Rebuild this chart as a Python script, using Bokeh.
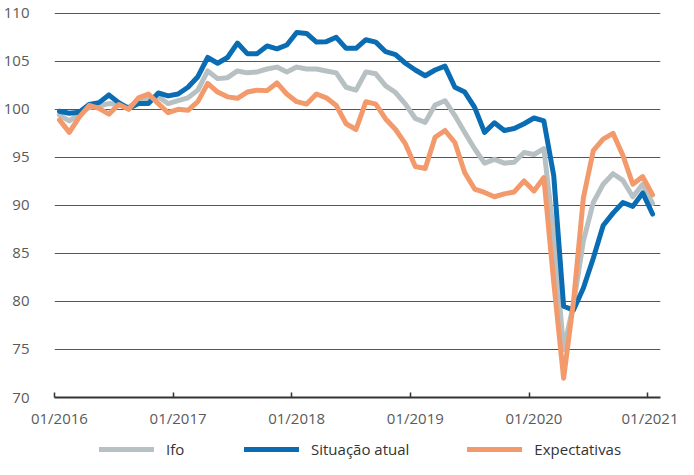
from bokeh.plotting import figure
from bokeh.layouts import column
from bokeh.models import Range1d, FixedTicker, Legend, LegendItem
from bokeh.embed import file_html
from bokeh.resources import INLINE

# Monthly data, 01/2016 .. 01/2021
months = list(range(61))
tick_labels = ["01/2016", "01/2017", "01/2018", "01/2019", "01/2020", "01/2021"]

ifo = [99.4, 98.8, 99.5, 100.2, 100.35, 100.6, 100.5, 100.2, 100.9, 101.1,
       101.3, 100.6, 100.9, 101.2, 102.0, 104.0, 103.2, 103.3, 104.0, 103.8,
       103.9, 104.2, 104.4, 103.9, 104.4, 104.2, 104.2, 104.0, 103.8, 102.3,
       102.0, 103.9, 103.7, 102.45, 101.75, 100.55, 99.05, 98.65, 100.45, 100.9,
       99.35, 97.6, 95.9, 94.4, 94.8, 94.4, 94.5, 95.5, 95.3, 95.9,
       87.0, 75.0, 79.7, 86.3, 90.3, 92.2, 93.3, 92.6, 90.9, 92.2,
       90.2]

situacao = [99.8, 99.6, 99.7, 100.5, 100.7, 101.5, 100.7, 100.1, 100.6, 100.6,
            101.7, 101.4, 101.6, 102.3, 103.4, 105.4, 104.8, 105.4, 106.9, 105.8,
            105.8, 106.6, 106.3, 106.7, 108.0, 107.9, 107.0, 107.05, 107.5, 106.35,
            106.35, 107.25, 107.0, 106.0, 105.7, 104.8, 104.1, 103.5, 104.1, 104.5,
            102.3, 101.8, 100.2, 97.6, 98.6, 97.8, 98.0, 98.5, 99.1, 98.8,
            93.1, 79.5, 79.1, 81.4, 84.5, 87.9, 89.2, 90.3, 89.9, 91.3,
            89.1]

expectativas = [98.9, 97.6, 99.2, 100.4, 100.1, 99.5, 100.5, 100.0, 101.2, 101.6,
                100.6, 99.65, 100.0, 99.9, 100.8, 102.7, 101.8, 101.3, 101.15, 101.8,
                102.0, 101.95, 102.75, 101.6, 100.8, 100.55, 101.6, 101.2, 100.4, 98.5,
                97.9, 100.8, 100.55, 99.0, 97.9, 96.4, 94.05, 93.85, 97.1, 97.8,
                96.55, 93.4, 91.7, 91.35, 90.9, 91.2, 91.4, 92.55, 91.5, 92.9,
                82.0, 72.0, 80.0, 90.8, 95.7, 96.9, 97.5, 95.2, 92.2, 93.0,
                91.1]

series_names = ["Ifo", "Situação atual", "Expectativas"]
colors = ["#b7c0c2", "#0a6db4", "#f39a6c"]

x = [m + 0.5 for m in months]

p = figure(width=678, height=437, output_backend="svg", toolbar_location=None,
           x_range=Range1d(0, 61.3), y_range=Range1d(70, 110.5),
           min_border_left=52, min_border_right=18, min_border_top=8,
           min_border_bottom=40)
p.outline_line_color = None
p.background_fill_color = "white"
p.border_fill_color = "white"

# grid
p.xgrid.visible = False
p.ygrid.ticker = FixedTicker(ticks=list(range(75, 111, 5)))
p.ygrid.grid_line_color = "#555555"
p.ygrid.grid_line_width = 1

# y axis
p.yaxis.ticker = FixedTicker(ticks=list(range(70, 111, 5)))
p.yaxis.axis_line_color = None
p.yaxis.major_tick_line_color = None
p.yaxis.minor_tick_line_color = None
p.yaxis.major_label_standoff = 19
p.yaxis.major_label_text_font = "Open Sans"
p.yaxis.major_label_text_font_size = "15px"
p.yaxis.major_label_text_color = "#5a5a5a"

# x axis
year_pos = [12 * k for k in range(len(tick_labels))]
p.xaxis.ticker = FixedTicker(ticks=[v + 0.5 for v in year_pos], minor_ticks=year_pos)
p.xaxis.major_label_overrides = {v + 0.5: lab for v, lab in zip(year_pos, tick_labels)}
p.xaxis.major_tick_line_color = None
p.xaxis.minor_tick_in = 5
p.xaxis.minor_tick_out = 0
p.xaxis.minor_tick_line_color = "#333333"
p.xaxis.minor_tick_line_width = 1.5
p.xaxis.axis_line_color = "#333333"
p.xaxis.axis_line_width = 2
p.xaxis.major_label_standoff = 4
p.xaxis.major_label_text_font = "Open Sans"
p.xaxis.major_label_text_font_size = "15px"
p.xaxis.major_label_text_color = "#5a5a5a"

for vals, col in zip([ifo, situacao, expectativas], colors):
    p.line(x, vals, line_color=col, line_width=5, line_cap="round", line_join="round")

# legend strip below the chart (its key lines lie outside the strip's visible range)
pl = figure(width=678, height=22, output_backend="svg", toolbar_location=None,
            x_range=Range1d(0, 1), y_range=Range1d(0, 1), min_border=0,
            x_axis_location=None, y_axis_location=None)
pl.grid.visible = False
pl.outline_line_color = None
leg_renderers = [pl.line(x=[-5, -4], y=[-5, -5], line_color=col, line_width=5, line_cap="round")
                 for col in colors]
legend = Legend(items=[LegendItem(label=n, renderers=[r]) for n, r in zip(series_names, leg_renderers)],
                orientation="horizontal", location=(45, 0),
                glyph_width=55, glyph_height=18, label_height=18,
                label_standoff=12, spacing=58, padding=0, margin=0,
                border_line_color=None, background_fill_alpha=0,
                label_text_font="Open Sans", label_text_font_size="15px",
                label_text_color="#333333")
pl.add_layout(legend)

layout = column(p, pl, spacing=0)
open("out.html", "w").write(file_html(layout, INLINE))
